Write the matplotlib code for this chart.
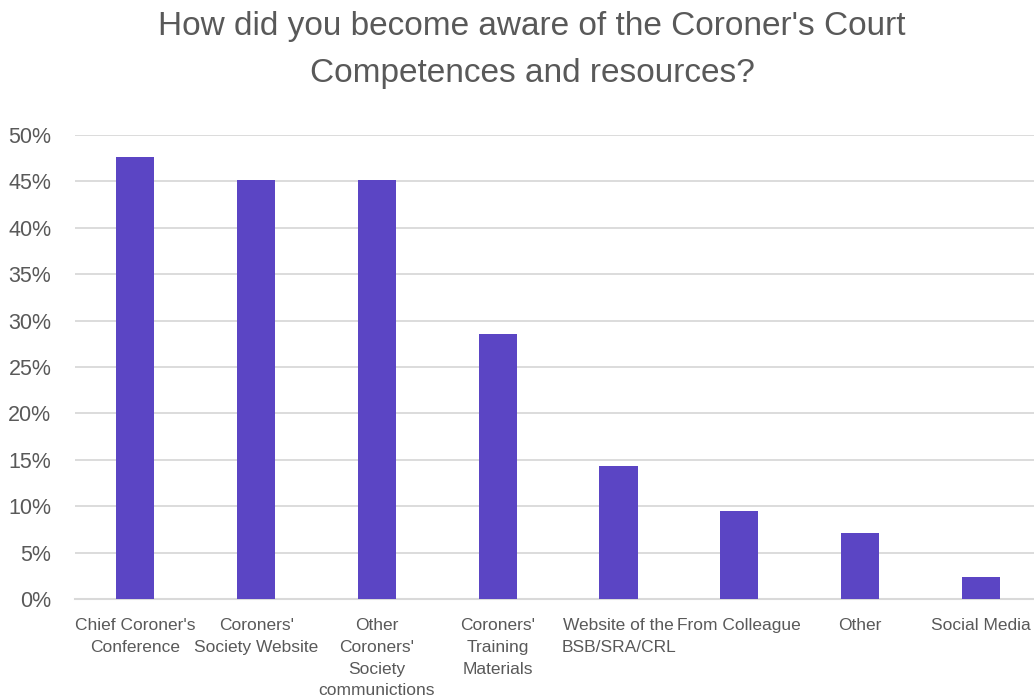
"""Awareness of Coroner's Court competences: share of respondents by source."""

import matplotlib.pyplot as plt
from matplotlib.ticker import PercentFormatter

CATEGORIES = [
    "Chief Coroner's\nConference",
    "Coroners'\nSociety Website",
    "Other\nCoroners'\nSociety\ncommunictions",
    "Coroners'\nTraining\nMaterials",
    "Website of the\nBSB/SRA/CRL",
    "From Colleague",
    "Other",
    "Social Media",
]
SHARES = [0.476, 0.452, 0.452, 0.286, 0.143, 0.095, 0.071, 0.024]
Y_TICKS = [0.0, 0.05, 0.10, 0.15, 0.20, 0.25, 0.30, 0.35, 0.40, 0.45, 0.50]

TEXT = "#595959"
BAR = "#5B45C4"
GRID = "#D9D9D9"

plt.rcParams["font.family"] = ["Liberation Sans", "DejaVu Sans"]

fig = plt.figure(figsize=(10.34, 6.99), dpi=100)
ax = fig.add_axes([75 / 1034, 100 / 699, 959 / 1034, 464 / 699])

x = list(range(len(CATEGORIES)))
ax.bar(x, SHARES, width=0.315, color=BAR, zorder=3)

ax.set_xlim(-0.5, 7.44)
ax.set_ylim(0, 0.5)
ax.set_yticks(Y_TICKS)
ax.yaxis.set_major_formatter(PercentFormatter(1.0, decimals=0))
ax.set_xticks(x)
ax.set_xticklabels(CATEGORIES, fontsize=12.5, color=TEXT, linespacing=1.55)
ax.tick_params(axis="y", labelsize=15.5, colors=TEXT, length=0, pad=17)
ax.tick_params(axis="x", length=0, pad=14)

ax.grid(axis="y", color=GRID, linewidth=1.3, zorder=0)
for side in ["top", "right", "left"]:
    ax.spines[side].set_visible(False)
ax.spines["bottom"].set_color(GRID)
ax.spines["bottom"].set_linewidth(1.5)

fig.text(
    532 / 1034, 1 - 50 / 699,
    "How did you become aware of the Coroner's Court\nCompetences and resources?",
    ha="center", va="center", fontsize=24, color=TEXT, linespacing=1.65,
)

fig.savefig("out.png", dpi=100)
